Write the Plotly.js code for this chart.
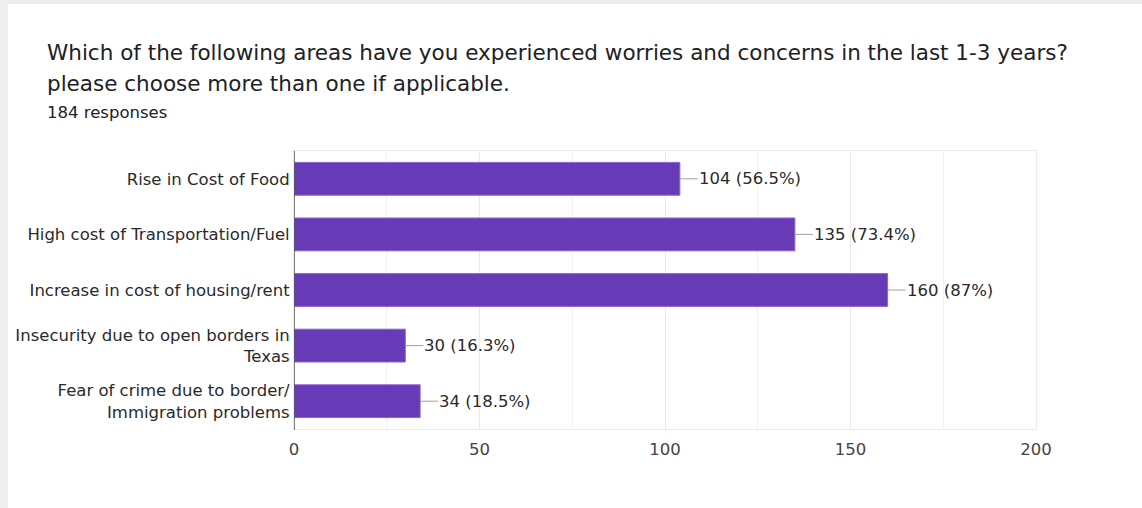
<!DOCTYPE html>
<html>
<head>
<meta charset="utf-8">
<script src="https://cdn.plot.ly/plotly-3.0.1.min.js"></script>
<style>
  html, body { margin: 0; padding: 0; background: #eeeeee; }
  #card { position: absolute; left: 8px; top: 4px; width: 1134px; height: 504px; background: #ffffff; }
  #chart { position: absolute; left: 0; top: 0; width: 1142px; height: 508px; }
</style>
</head>
<body>
<div id="card"></div>
<div id="chart"></div>
<script>
const titleLine1 = "Which of the following areas have you experienced worries and concerns in the last 1-3 years?";
const titleLine2 = "please choose more than one if applicable.";
const responsesText = "184 responses";

const categories = [
  "Rise in Cost of Food",
  "High cost of Transportation/Fuel",
  "Increase in cost of housing/rent",
  "Insecurity due to open borders in<br>Texas",
  "Fear of crime due to border/<br>Immigration problems"
];
const counts = [104, 135, 160, 30, 34];
const percents = ["56.5%", "73.4%", "87%", "16.3%", "18.5%"];
const xTicks = [0, 50, 100, 150, 200];

const barColor = "#673ab7";
const labelFont = "DejaVu Sans, Liberation Sans, Arial, sans-serif";

const trace = {
  type: "bar",
  orientation: "h",
  x: counts,
  y: categories,
  marker: { color: barColor, line: { color: "#8a63d2", width: 1 } },
  hoverinfo: "none"
};

const annotations = counts.map((v, i) => ({
  x: v, y: categories[i], xref: "x", yref: "y",
  text: v + " (" + percents[i] + ")",
  showarrow: true, arrowhead: 0, arrowwidth: 1, arrowcolor: "#a0a0a0",
  ax: 18, ay: 0, xanchor: "left", standoff: 0, borderpad: 0,
  font: { family: labelFont, size: 16.5, color: "#2a2a2a" }
}));

annotations.push(
  { xref: "paper", yref: "paper", x: -249 / 742, y: 1 + 99 / 278, xanchor: "left", yanchor: "middle",
    text: titleLine1, showarrow: false,
    font: { family: labelFont, size: 21.5, color: "#202124" } },
  { xref: "paper", yref: "paper", x: -249 / 742, y: 1 + 67 / 278, xanchor: "left", yanchor: "middle",
    text: titleLine2, showarrow: false,
    font: { family: labelFont, size: 21.5, color: "#202124" } },
  { xref: "paper", yref: "paper", x: -249 / 742, y: 1 + 39 / 278, xanchor: "left", yanchor: "middle",
    text: responsesText, showarrow: false,
    font: { family: labelFont, size: 16.5, color: "#202124" } }
);

const layout = {
  width: 1142, height: 508,
  margin: { l: 294, r: 106, t: 151, b: 79 },
  paper_bgcolor: "rgba(0,0,0,0)",
  plot_bgcolor: "rgba(0,0,0,0)",
  showlegend: false,
  bargap: 0.41,
  xaxis: {
    range: [0, 200],
    tickvals: xTicks,
    ticktext: xTicks.map(String),
    showgrid: true, gridcolor: "#e9e9e9", gridwidth: 1,
    minor: { dtick: 25, showgrid: true, gridcolor: "#f0f0f0", gridwidth: 1 },
    zeroline: false,
    showline: true, mirror: true, linecolor: "#ebebeb", linewidth: 1,
    ticks: "", ticklabelstandoff: 5,
    tickfont: { family: labelFont, size: 16.5, color: "#444444" },
    fixedrange: true
  },
  yaxis: {
    autorange: "reversed",
    showgrid: false, zeroline: false,
    showline: true, mirror: true, linecolor: "#ebebeb", linewidth: 1,
    ticks: "",
    tickfont: { family: labelFont, size: 16.5, color: "#2a2a2a" },
    fixedrange: true
  },
  shapes: [
    { type: "line", xref: "x", yref: "paper", x0: 0, x1: 0, y0: -0.004, y1: 1,
      line: { color: "#555555", width: 1.5 }, layer: "above" }
  ],
  annotations: annotations
};

Plotly.newPlot("chart", [trace], layout, { displayModeBar: false, staticPlot: true });
</script>
</body>
</html>
